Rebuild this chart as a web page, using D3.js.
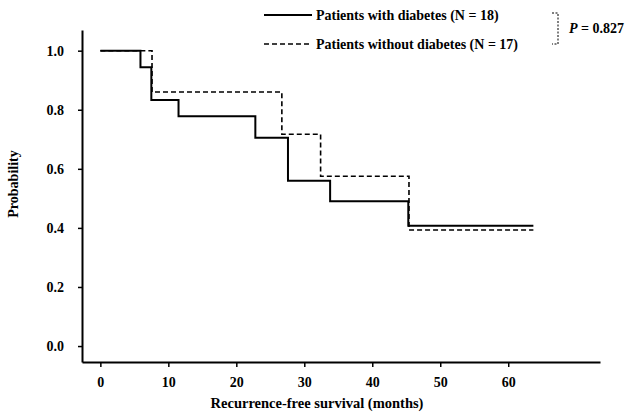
<!DOCTYPE html>
<html>
<head>
<meta charset="utf-8">
<script src="https://cdn.jsdelivr.net/npm/d3@7"></script>
<style>
  body { margin: 0; background: #fff; }
  text { font-family: "Liberation Serif", "DejaVu Serif", serif; font-weight: bold; fill: #000; }
</style>
</head>
<body>
<div id="chart"></div>
<script>
// Kaplan-Meier step data (time in months, survival probability)
const withTimes = [0, 5.9, 7.5, 11.5, 22.8, 27.6, 33.8, 45.3, 63.7];
const withProb = [1.0, 0.944, 0.833, 0.778, 0.705, 0.56, 0.49, 0.407, 0.407];
const withoutTimes = [0, 7.6, 26.7, 32.4, 45.4, 63.7];
const withoutProb = [1.0, 0.86, 0.717, 0.575, 0.393, 0.393];

const xTicks = [0, 10, 20, 30, 40, 50, 60];
const yTicks = [0.0, 0.2, 0.4, 0.6, 0.8, 1.0];
const legendLabels = ["Patients with diabetes (N = 18)", "Patients without diabetes (N = 17)"];
const pLabel = "0.827";

const width = 637;
const height = 419;

const svg = d3.select("#chart")
    .append("svg")
    .attr("width", width)
    .attr("height", height);

const x = d3.scaleLinear().domain([-2.7, 73.5]).range([82, 600]);
const y = d3.scaleLinear().domain([-0.054, 1.07]).range([362, 30]);

// Axes
const xAxis = svg.append("g")
    .attr("transform", `translate(0,${y(-0.054)})`)
    .call(d3.axisBottom(x).tickValues(xTicks).tickSize(5).tickSizeOuter(0).tickPadding(10));
const yAxis = svg.append("g")
    .attr("transform", `translate(${x(-2.7)},0)`)
    .call(d3.axisLeft(y).tickValues(yTicks).tickSize(4).tickSizeOuter(0).tickPadding(14)
        .tickFormat(d3.format(".1f")));

[xAxis, yAxis].forEach(g => {
    g.select(".domain").attr("stroke", "#000").attr("stroke-width", 2);
    g.selectAll(".tick line").attr("stroke", "#000").attr("stroke-width", 1.5);
    g.selectAll(".tick text")
        .attr("font-size", "14px")
        .attr("font-family", "Liberation Serif")
        .attr("font-weight", "bold");
});

// Step curves
const line = d3.line()
    .x(d => x(d[0]))
    .y(d => y(d[1]))
    .curve(d3.curveStepAfter);

svg.append("path")
    .datum(withoutTimes.map((t, i) => [t, withoutProb[i]]))
    .attr("d", line)
    .attr("fill", "none")
    .attr("stroke", "#000")
    .attr("stroke-width", 1.6)
    .attr("stroke-dasharray", "5,3");

svg.append("path")
    .datum(withTimes.map((t, i) => [t, withProb[i]]))
    .attr("d", line)
    .attr("fill", "none")
    .attr("stroke", "#000")
    .attr("stroke-width", 2);

// Axis titles
svg.append("text")
    .attr("x", 317)
    .attr("y", 408)
    .attr("text-anchor", "middle")
    .attr("font-size", "14.5px")
    .text("Recurrence-free survival (months)");

svg.append("text")
    .attr("transform", "translate(18,184) rotate(-90)")
    .attr("text-anchor", "middle")
    .attr("font-size", "14px")
    .text("Probability");

// Legend
const legend = svg.append("g");
legendLabels.forEach((label, i) => {
    const ly = 15 + i * 29;
    legend.append("line")
        .attr("x1", 264).attr("x2", 312)
        .attr("y1", ly).attr("y2", ly)
        .attr("stroke", "#000")
        .attr("stroke-width", i === 0 ? 2 : 1.6)
        .attr("stroke-dasharray", i === 0 ? null : "5,3");
    legend.append("text")
        .attr("x", 316)
        .attr("y", ly + 5)
        .attr("font-size", "14px")
        .text(label);
});

// Bracket with P value
legend.append("path")
    .attr("d", "M552,13 H558 V44 H552")
    .attr("fill", "none")
    .attr("stroke", "#000")
    .attr("stroke-width", 1)
    .attr("stroke-dasharray", "2,1.5");

const pText = legend.append("text")
    .attr("x", 569)
    .attr("y", 33)
    .attr("font-size", "14px");
pText.append("tspan").attr("font-style", "italic").text("P");
pText.append("tspan").text(" = " + pLabel);
</script>
</body>
</html>
